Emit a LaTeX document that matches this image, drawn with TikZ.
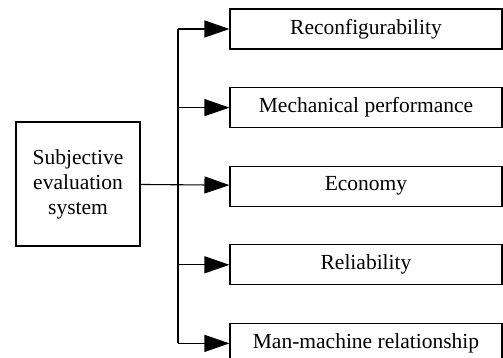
\documentclass[tikz,border=0pt]{standalone}
\usepackage{fontspec}
\setmainfont{Liberation Serif}
\usetikzlibrary{arrows.meta,positioning}

\begin{document}
\begin{tikzpicture}[
        x=1pt, y=1pt,
        node distance=37.5pt,
        item/.style={rectangle, draw, line width=1.1pt, minimum width=272pt,
                     minimum height=40pt, inner sep=0pt, font=\fontsize{21.5}{25}\selectfont},
        sysbox/.style={rectangle, draw, line width=1.1pt, minimum width=124pt,
                       minimum height=124pt, align=center, inner sep=0pt,
                       font=\fontsize{21.5}{25}\selectfont},
        arrow/.style={-{Triangle[length=25pt, width=17pt]}, line width=1.1pt}
    ]
        \useasboundingbox (0,0) rectangle (503,358);

        \node[sysbox] (sys) at (78,174) {Subjective\\evaluation\\system};

        \node[item] (r1) at (366,329) {Reconfigurability};
        \node[item, below=of r1] (r2) {Mechanical performance};
        \node[item, below=of r2] (r3) {Economy};
        \node[item, below=of r3] (r4) {Reliability};
        \node[item, below=of r4] (r5) {Man-machine relationship};

        % branch points on the bus
        \coordinate (b1) at (178,329);
        \coordinate (b2) at (r2.west -| b1);
        \coordinate (b4) at (r4.west -| b1);
        \coordinate (b5) at (r5.west -| b1);

        \draw[line width=1.1pt] (b1) -- (b5);
        \draw[arrow] (sys) -- (r3);
        \draw[arrow] (b1) -- (r1);
        \draw[arrow] (b2) -- (r2);
        \draw[arrow] (b4) -- (r4);
        \draw[arrow] (b5) -- (r5);
    \end{tikzpicture}
\end{document}
